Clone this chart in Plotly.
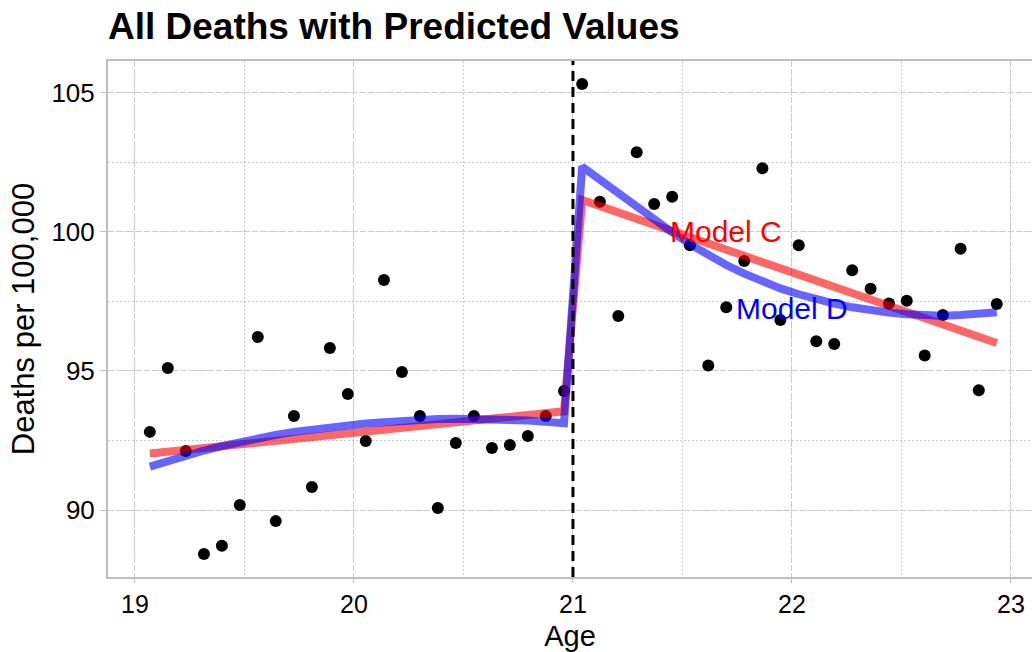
import plotly.graph_objects as go

# Observed data (age in years, deaths per 100,000)
age_pre = [19.068, 19.150, 19.232, 19.315, 19.397, 19.479, 19.561, 19.643,
           19.726, 19.808, 19.890, 19.972, 20.054, 20.137, 20.219, 20.301,
           20.383, 20.465, 20.548, 20.630, 20.712, 20.794, 20.876, 20.959]
deaths_pre = [92.81, 95.11, 92.12, 88.42, 88.71, 90.18, 96.22, 89.60,
              93.38, 90.83, 95.83, 94.17, 92.48, 98.27, 94.96, 93.38,
              90.07, 92.41, 93.38, 92.23, 92.34, 92.66, 93.38, 94.28]
age_post = [21.042, 21.123, 21.207, 21.291, 21.371, 21.453, 21.534, 21.618,
            21.700, 21.782, 21.865, 21.947, 22.031, 22.111, 22.193, 22.275,
            22.359, 22.443, 22.524, 22.606, 22.689, 22.770, 22.853, 22.935]
deaths_post = [105.32, 101.09, 96.98, 102.87, 101.01, 101.27, 99.52, 95.20,
               97.29, 98.96, 102.29, 96.83, 99.52, 96.07, 95.97, 98.62,
               97.96, 97.43, 97.53, 95.56, 97.01, 99.40, 94.31, 97.41]

# Model C (linear each side): predicted values at segment ends
modelC_age = [19.068, 20.959, 21.042, 22.935]
modelC_pred = [92.03, 93.55, 101.15, 96.01]

# Model D (curved each side): predicted values at each age
modelD_pred_pre = [91.56, 91.77, 91.96, 92.14, 92.30, 92.45, 92.58, 92.70,
                   92.81, 92.90, 92.98, 93.05, 93.11, 93.16, 93.21, 93.24,
                   93.27, 93.28, 93.28, 93.27, 93.25, 93.22, 93.17, 93.12]
modelD_pred_post = [102.35, 101.87, 101.39, 100.91, 100.44, 99.99, 99.56, 99.17,
                    98.81, 98.50, 98.22, 97.97, 97.76, 97.58, 97.42, 97.29,
                    97.18, 97.10, 97.04, 97.00, 96.99, 97.01, 97.05, 97.11]

cutoff = 21
x_ticks = [19, 20, 21, 22, 23]
y_ticks = [90, 95, 100, 105]

FONT = "Liberation Sans, Arial, Helvetica, sans-serif"
GRID = "#cccccc"
AXIS = "#bebebe"

fig = go.Figure()
fig.add_trace(go.Scatter(x=age_pre + age_post, y=deaths_pre + deaths_post,
                         mode="markers", marker=dict(color="black", size=12),
                         showlegend=False, hoverinfo="skip"))
fig.add_trace(go.Scatter(x=modelC_age, y=modelC_pred, mode="lines",
                         line=dict(color="rgba(255,0,0,0.6)", width=8),
                         showlegend=False))
fig.add_trace(go.Scatter(x=age_pre + age_post, y=modelD_pred_pre + modelD_pred_post,
                         mode="lines", line=dict(color="rgba(0,0,255,0.6)", width=8),
                         showlegend=False))

fig.add_shape(type="line", x0=cutoff, x1=cutoff, y0=0, y1=1, xref="x", yref="paper",
              line=dict(color="black", width=3, dash="10px,6px"))

fig.add_annotation(x=21.70, y=100.0, text="Model C", showarrow=False,
                   font=dict(family=FONT, size=30, color="red"))
fig.add_annotation(x=22.0, y=97.25, text="Model D", showarrow=False,
                   font=dict(family=FONT, size=30, color="blue"))

fig.update_layout(
    width=1032, height=652,
    margin=dict(l=108, r=0, t=61, b=75),
    paper_bgcolor="white", plot_bgcolor="white",
    font=dict(family=FONT, color="black"),
    title=dict(text="<b>All Deaths with Predicted Values</b>", x=108/1032, xanchor="left",
               y=1 - 26/652, yanchor="middle",
               font=dict(family=FONT, size=37, color="black")),
    xaxis=dict(range=[18.877, 23.096], tickvals=x_ticks, ticktext=[str(t) for t in x_ticks],
               showgrid=True, gridcolor=GRID, griddash="6px,3px", gridwidth=1,
               minor=dict(dtick=0.5, tick0=19, showgrid=True, gridcolor=GRID, griddash="2px,2px", gridwidth=1),
               showline=True, linecolor=AXIS, linewidth=2, mirror=True,
               ticks="outside", ticklen=4, tickcolor=AXIS, zeroline=False, automargin=False,
               tickfont=dict(family=FONT, size=25, color="black"),
               title=dict(text="Age", font=dict(family=FONT, size=29, color="black"), standoff=11)),
    yaxis=dict(range=[87.59, 106.15], tickvals=y_ticks, ticktext=[str(t) for t in y_ticks],
               showgrid=True, gridcolor=GRID, griddash="6px,3px", gridwidth=1,
               minor=dict(dtick=2.5, tick0=90, showgrid=True, gridcolor=GRID, griddash="2px,2px", gridwidth=1),
               showline=True, linecolor=AXIS, linewidth=2, mirror=False,
               ticks="outside", ticklen=6, tickcolor=AXIS, zeroline=False, automargin=False,
               tickfont=dict(family=FONT, size=26, color="black"),
               title=dict(text="Deaths per 100,000", font=dict(family=FONT, size=31, color="black"), standoff=8)),
)

fig.write_html("out.html")
